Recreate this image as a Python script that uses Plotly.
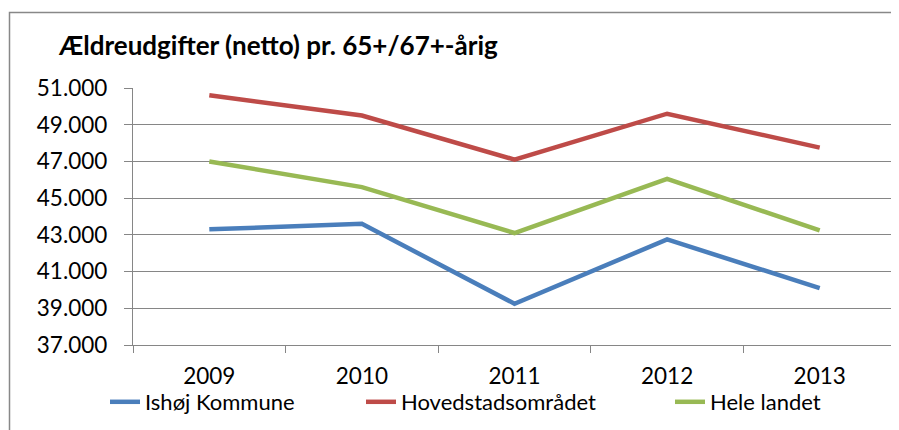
import plotly.graph_objects as go

years = ["2009", "2010", "2011", "2012", "2013"]
ishoj = [43300, 43600, 39250, 42750, 40100]
hovedstad = [50600, 49500, 47100, 49600, 47750]
hele_landet = [47000, 45600, 43100, 46050, 43250]
series_names = ["Ishøj Kommune", "Hovedstadsområdet", "Hele landet"]
series_colors = ["#4a7ebb", "#be4b48", "#98b954"]
y_ticks = [37000, 39000, 41000, 43000, 45000, 47000, 49000, 51000]
y_ticktext = [f"{v:,}".replace(",", ".") for v in y_ticks]

FONT = "Lato"
OFF = 8  # browser body margin: page pixel = figure pixel + OFF
W, H = 899 - OFF, 430 - OFF
ML, MR, MT, MB = 133 - OFF, 3, 88 - OFF, 85
pw = W - ML - MR
ph = H - MT - MB


def px_x(page_x):
    return (page_x - OFF - ML) / pw


def px_y(page_y):
    return (MT + ph - (page_y - OFF)) / ph


legend_ids = ["legend", "legend2", "legend3"]
legend_text_x = [147, 403, 712]

fig = go.Figure()
for name, vals, col, lid in zip(series_names, [ishoj, hovedstad, hele_landet],
                                series_colors, legend_ids):
    fig.add_trace(go.Scatter(x=years, y=vals, mode="lines", name=name,
                             line=dict(color=col, width=4.5), legend=lid))

legend_common = dict(orientation="h", xanchor="left", yanchor="middle",
                     font=dict(family=FONT, size=22, color="#000000"),
                     bgcolor="rgba(0,0,0,0)", borderwidth=0)
legends = {}
for lid, tx in zip(legend_ids, legend_text_x):
    legends[lid] = dict(legend_common, x=px_x(tx - 42), y=px_y(402))

fig.add_annotation(text="<b>Ældreudgifter (netto) pr. 65+/67+-årig</b>",
                   xref="paper", yref="paper", x=px_x(56.7), y=px_y(45),
                   xanchor="left", yanchor="middle", showarrow=False,
                   borderpad=0, font=dict(family=FONT, size=26, color="#000000"))

fig.update_layout(
    width=W, height=H,
    margin=dict(l=ML, r=MR, t=MT, b=MB, pad=0, autoexpand=False),
    paper_bgcolor="white", plot_bgcolor="white",
    font=dict(family=FONT, size=22, color="#000000"),
    showlegend=True,
    **legends,
    xaxis=dict(type="category", range=[-0.5, 4.5], showgrid=False,
               showline=True, linecolor="#868686", linewidth=1.3,
               ticks="outside", tickson="boundaries", ticklen=7,
               tickcolor="#868686", tickwidth=1.3,
               tickfont=dict(family=FONT, size=22.5), ticklabelstandoff=11,
               automargin=False, fixedrange=True),
    yaxis=dict(range=[37000, 51000], tickvals=y_ticks, ticktext=y_ticktext,
               showgrid=True, gridcolor="#868686", gridwidth=1.3,
               showline=True, linecolor="#868686", linewidth=1.3,
               ticks="outside", ticklen=8, tickcolor="#868686", tickwidth=1.3,
               tickfont=dict(family=FONT, size=22.5), ticklabelstandoff=12,
               automargin=False, zeroline=False, fixedrange=True),
    shapes=[dict(type="rect", xref="paper", yref="paper",
                 x0=px_x(9.5), x1=1.2,
                 y0=-1.0, y1=px_y(12.5),
                 line=dict(color="#888888", width=1.5), fillcolor="rgba(0,0,0,0)",
                 layer="below")],
)

fig.write_html("out.html")
